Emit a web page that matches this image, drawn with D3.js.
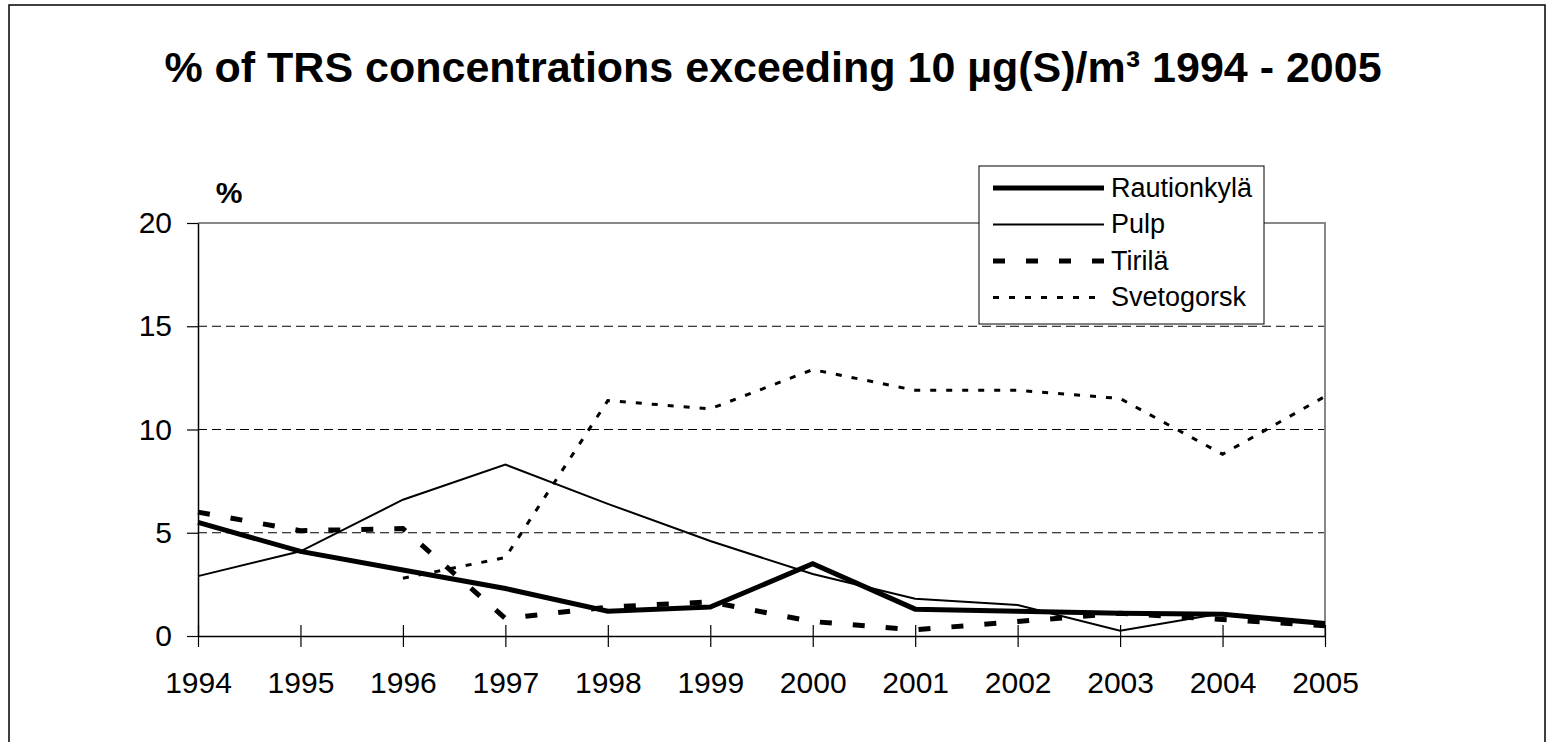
<!DOCTYPE html>
<html>
<head>
<meta charset="utf-8">
<script src="https://cdn.jsdelivr.net/npm/d3@7"></script>
<style>
  body { margin: 0; background: #fff; }
  svg { display: block; font-family: "Liberation Sans", Arial, sans-serif; }
</style>
</head>
<body>
<div id="chart"></div>
<script>
// data
const years = [1994, 1995, 1996, 1997, 1998, 1999, 2000, 2001, 2002, 2003, 2004, 2005];
const rautionkyla = [5.5, 4.1, 3.2, 2.3, 1.2, 1.4, 3.5, 1.3, 1.2, 1.1, 1.05, 0.6];
const pulp = [2.9, 4.1, 6.6, 8.3, 6.4, 4.6, 3.0, 1.8, 1.5, 0.25, 1.1, 0.6];
const tirila = [6.0, 5.1, 5.2, 0.85, 1.4, 1.65, 0.7, 0.3, 0.7, 1.1, 0.8, 0.5];
const svetogorsk = [null, null, 2.8, 3.8, 11.4, 11.0, 12.9, 11.9, 11.9, 11.5, 8.8, 11.6];
const yTicks = [0, 5, 10, 15, 20];

const seriesNames = ["Rautionkylä", "Pulp", "Tirilä", "Svetogorsk"];
const seriesValues = [rautionkyla, pulp, tirila, svetogorsk];

// line styles per series
const styles = {
  "Rautionkylä": { width: 5, dash: null },
  "Pulp": { width: 2, dash: null },
  "Tirilä": { width: 5, dash: "12,21" },
  "Svetogorsk": { width: 3, dash: "6,10" }
};

const W = 1550, H = 742;
const plot = { left: 198, right: 1325, top: 223, bottom: 636 };

const svg = d3.select("#chart")
  .append("svg")
    .attr("width", W)
    .attr("height", H);

// outer frame
svg.append("rect")
  .attr("x", 9).attr("y", 5)
  .attr("width", 1536).attr("height", 800)
  .attr("fill", "none")
  .attr("stroke", "#000")
  .attr("stroke-width", 1.5);

// title
svg.append("text")
  .attr("x", 773)
  .attr("y", 82)
  .attr("text-anchor", "middle")
  .style("font-size", "43px")
  .style("font-weight", "bold")
  .text("% of TRS concentrations exceeding 10 µg(S)/m³ 1994 - 2005");

// scales
const x = d3.scaleLinear()
  .domain([years[0], years[years.length - 1]])
  .range([plot.left, plot.right]);

const y = d3.scaleLinear()
  .domain([0, 20])
  .range([plot.bottom, plot.top]);

// dashed gridlines
svg.append("g")
  .selectAll("line")
  .data(yTicks.filter(v => v > 0 && v < 20))
  .enter()
  .append("line")
    .attr("x1", plot.left)
    .attr("x2", plot.right)
    .attr("y1", d => y(d))
    .attr("y2", d => y(d))
    .attr("stroke", "#000")
    .attr("stroke-width", 1)
    .attr("stroke-dasharray", "9,5");

// grey top and right border of plot area
svg.append("path")
  .attr("d", `M${plot.left},${y(20)}H${plot.right}V${y(0)}`)
  .attr("fill", "none")
  .attr("stroke", "#888")
  .attr("stroke-width", 2);

// y axis
const yAxis = svg.append("g")
  .attr("transform", `translate(${plot.left},0)`)
  .call(d3.axisLeft(y).tickValues(yTicks).tickSize(11).tickSizeOuter(0).tickPadding(15));

// x axis, ticks cross the axis line
const xAxis = svg.append("g")
  .attr("transform", `translate(0,${plot.bottom})`)
  .call(d3.axisBottom(x).tickValues(years).tickFormat(d3.format("d"))
    .tickSize(11).tickSizeOuter(0).tickPadding(25));
xAxis.selectAll(".tick line").attr("y1", -11);

[yAxis, xAxis].forEach(a => {
  a.selectAll("path.domain").attr("stroke", "#000").attr("stroke-width", 1.5);
  a.selectAll(".tick line").attr("stroke", "#000").attr("stroke-width", 1.2);
  a.selectAll("text")
    .attr("fill", "#000")
    .style("font-size", "30px")
    .style("font-family", "'Liberation Sans', Arial, sans-serif");
});

// "%" unit label
svg.append("text")
  .attr("x", 229)
  .attr("y", 203)
  .attr("text-anchor", "middle")
  .style("font-size", "30px")
  .style("font-weight", "bold")
  .text("%");

// series lines
const line = d3.line()
  .defined(d => d.v != null)
  .x(d => x(d.year))
  .y(d => y(d.v));

seriesNames.forEach((name, i) => {
  const pts = years.map((yr, j) => ({ year: yr, v: seriesValues[i][j] }));
  const s = styles[name];
  svg.append("path")
    .datum(pts)
    .attr("fill", "none")
    .attr("stroke", "#000")
    .attr("stroke-width", s.width)
    .attr("stroke-dasharray", s.dash)
    .attr("d", line);
});

// legend
const legend = svg.append("g").attr("class", "legend");
legend.append("rect")
  .attr("x", 979).attr("y", 166)
  .attr("width", 285).attr("height", 158)
  .attr("fill", "#fff")
  .attr("stroke", "#000")
  .attr("stroke-width", 1);

const items = legend.selectAll(".legend-item")
  .data(seriesNames)
  .enter()
  .append("g")
    .attr("class", "legend-item")
    .attr("transform", (d, i) => `translate(0, ${188 + i * 36.5})`);

items.append("line")
  .attr("x1", 993).attr("x2", 1104)
  .attr("y1", 0).attr("y2", 0)
  .attr("stroke", "#000")
  .attr("stroke-width", d => styles[d].width)
  .attr("stroke-dasharray", d => styles[d].dash);

items.append("text")
  .attr("x", 1111)
  .attr("y", 0)
  .attr("dy", "0.33em")
  .style("font-size", "27px")
  .text(d => d);
</script>
</body>
</html>
